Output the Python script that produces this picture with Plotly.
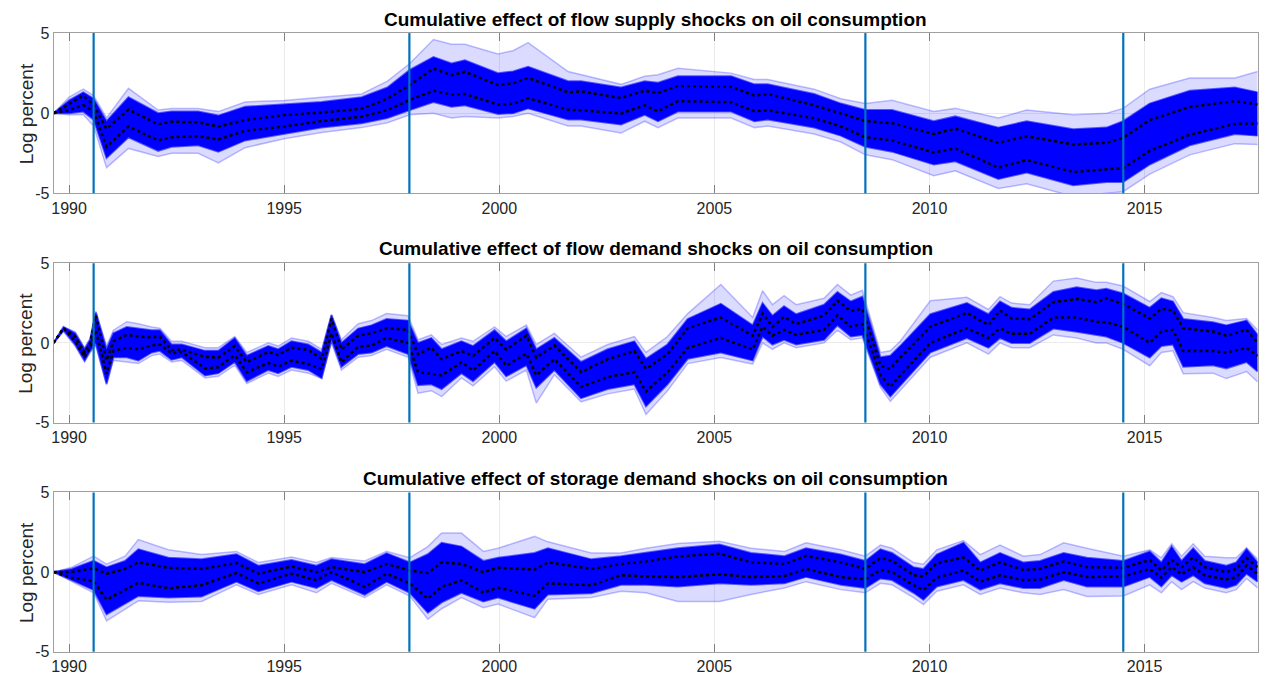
import plotly.graph_objects as go
from plotly.subplots import make_subplots

# ---- flow supply shocks ----
supply_year = [1989.64, 1990.0, 1990.33, 1990.57, 1990.87, 1991.38, 1992.07, 1992.38, 1993.0, 1993.47,
               1994.09, 1995.0, 1995.87, 1996.8, 1997.4, 1997.92, 1998.47, 1998.89, 1999.2, 1999.97,
               2000.32, 2000.67, 2001.6, 2001.9, 2002.83, 2003.38, 2003.69, 2004.15, 2005.39, 2005.93,
               2006.24, 2007.32, 2007.94, 2008.51, 2009.13, 2010.1, 2010.6, 2011.6, 2012.26, 2013.34,
               2014.12, 2014.5, 2015.12, 2016.05, 2017.1, 2017.63]
supply_p84 = [0, 0.6, 1.1, 0.5, -0.97, 0.22, -0.69, -0.53, -0.57, -0.83,
              -0.43, -0.12, 0.04, 0.28, 0.9, 1.76, 2.78, 2.37, 2.58, 1.76,
              1.87, 2.2, 1.3, 1.36, 0.95, 1.4, 1.26, 1.7, 1.64, 1.1,
              1.2, 0.49, -0.02, -0.49, -0.63, -1.3, -0.97, -1.85, -1.44, -1.95,
              -1.85, -1.54, -0.43, 0.39, 0.75, 0.55]
supply_p16 = [0, 0.2, 0.5, 0.1, -2.1, -0.83, -1.7, -1.5, -1.44, -1.64,
              -1.1, -0.83, -0.49, -0.22, 0.2, 0.83, 1.4, 1.16, 1.2, 0.53,
              0.59, 0.93, 0.22, 0.18, -0.02, 0.49, 0.12, 0.75, 0.69, 0.12,
              0.18, -0.32, -0.83, -1.5, -1.7, -2.45, -2.2, -3.4, -2.92, -3.67,
              -3.5, -3.43, -2.35, -1.34, -0.67, -0.65]
supply_core_hi = [0, 0.8, 1.3, 0.9, -0.5, 1.0, 0.0, 0.1, 0.1, -0.15,
                  0.4, 0.55, 0.7, 1.0, 1.6, 2.7, 3.5, 3.1, 3.3, 2.5,
                  2.6, 2.9, 2.0, 2.0, 1.6, 2.0, 1.9, 2.3, 2.3, 1.8,
                  1.8, 1.2, 0.6, 0.2, 0.2, -0.5, -0.2, -0.9, -0.5, -1.0,
                  -0.9, -0.5, 0.6, 1.4, 1.6, 1.3]
supply_core_lo = [0, 0.0, 0.1, -0.4, -2.8, -1.5, -2.35, -2.1, -2.0, -2.4,
                  -1.7, -1.3, -0.9, -0.63, -0.3, 0.2, 0.7, 0.4, 0.5, -0.05,
                  0.0, 0.3, -0.4, -0.4, -0.7, -0.1, -0.5, 0.1, 0.1, -0.5,
                  -0.4, -0.9, -1.4, -2.1, -2.4, -3.2, -3.0, -4.1, -3.7, -4.5,
                  -4.3, -4.3, -3.2, -2.0, -1.3, -1.4]
supply_max = [0, 1.0, 1.5, 1.1, -0.3, 1.55, 0.2, 0.3, 0.3, 0.1,
              0.7, 0.8, 1.0, 1.2, 2.0, 3.1, 4.6, 4.3, 4.3, 3.7,
              3.9, 4.4, 2.6, 2.4, 1.8, 2.3, 2.4, 2.8, 2.5, 2.1,
              2.1, 1.5, 0.9, 0.6, 0.8, 0.1, 0.3, -0.3, 0.2, -0.1,
              0.0, 0.3, 1.5, 2.2, 2.2, 2.6]
supply_min = [0, -0.1, -0.1, -0.8, -3.4, -2.2, -2.7, -2.5, -2.5, -3.1,
              -2.15, -1.6, -1.2, -0.9, -0.6, -0.1, 0.0, -0.3, -0.2, -0.3,
              -0.2, 0.0, -0.8, -0.8, -1.24, -0.5, -0.9, -0.3, -0.3, -0.9,
              -0.8, -1.3, -1.8, -2.6, -2.9, -3.9, -3.6, -4.7, -4.4, -5.2,
              -5.0, -4.9, -3.8, -2.6, -1.9, -1.95]

# ---- flow demand shocks ----
demand_year = [1989.64, 1989.87, 1990.14, 1990.36, 1990.49, 1990.62, 1990.87, 1991.03, 1991.34, 1991.61,
               1991.92, 1992.11, 1992.38, 1992.62, 1993.16, 1993.47, 1993.85, 1994.13, 1994.63, 1994.86,
               1995.17, 1995.56, 1995.87, 1996.1, 1996.33, 1996.72, 1997.03, 1997.38, 1997.88, 1998.11,
               1998.42, 1998.66, 1999.12, 1999.39, 1999.89, 2000.16, 2000.63, 2000.86, 2001.28, 2001.9,
               2002.52, 2003.14, 2003.41, 2003.91, 2004.38, 2005.15, 2005.89, 2006.12, 2006.35, 2006.62,
               2006.9, 2007.55, 2007.86, 2008.17, 2008.44, 2008.86, 2009.09, 2009.32, 2010.02, 2010.87,
               2011.37, 2011.64, 2011.91, 2012.33, 2012.88, 2013.42, 2013.88, 2014.11, 2014.5, 2015.12,
               2015.39, 2015.66, 2015.9, 2016.59, 2016.9, 2017.37, 2017.63]
demand_p84 = [0, 0.92, 0.4, -0.6, 0.0, 1.73, -1.1, 0.1, 0.51, 0.4,
              0.35, 0.4, -0.45, -0.41, -0.88, -0.92, -0.2, -1.22, -0.57, -0.76,
              -0.3, -0.45, -1.0, 1.53, -0.41, 0.45, 0.61, 0.92, 0.82, -0.71,
              -0.3, -1.02, -0.51, -0.82, 0.31, -0.41, 0.45, -0.92, -0.16, -1.84,
              -1.02, -0.51, -1.63, -0.71, 0.92, 1.59, 0.45, 1.84, 1.02, 1.63,
              1.18, 1.73, 2.65, 2.0, 2.14, -1.43, -1.63, -0.92, 1.02, 1.88,
              1.12, 2.04, 1.53, 1.49, 2.55, 2.76, 2.55, 2.8, 2.45, 1.53,
              2.14, 2.04, 0.92, 0.71, 0.45, 0.82, 0.0]
demand_p16 = [0, 0.92, 0.1, -0.9, -0.3, 0.8, -1.94, -0.5, -0.3, -0.4,
              -0.16, -0.1, -0.65, -0.57, -1.6, -1.53, -0.78, -1.84, -1.27, -1.49,
              -1.12, -1.33, -1.63, 0.61, -1.22, -0.24, -0.16, 0.31, 0.0, -1.84,
              -1.94, -2.04, -1.22, -1.73, -0.51, -1.43, -0.67, -2.04, -1.02, -2.76,
              -2.14, -1.84, -3.06, -1.84, -0.31, 0.31, -0.41, 1.02, 0.45, 0.82,
              0.51, 0.82, 1.73, 1.02, 1.18, -2.04, -2.76, -2.04, 0.0, 0.92,
              0.31, 0.92, 0.57, 0.57, 1.59, 1.59, 1.33, 1.29, 1.02, 0.0,
              0.71, 0.82, -0.51, -0.51, -0.61, -0.31, -0.82]
demand_core_hi = [0, 1.0, 0.6, -0.4, 0.2, 1.9, -0.4, 0.6, 1.0, 0.9,
                  0.8, 0.8, -0.1, -0.1, -0.5, -0.5, 0.3, -0.8, -0.2, -0.4,
                  0.1, -0.1, -0.6, 1.73, 0.0, 0.9, 1.1, 1.5, 1.4, 0.0,
                  0.3, -0.4, 0.1, -0.2, 0.8, 0.1, 0.9, -0.4, 0.3, -1.2,
                  -0.4, 0.1, -1.0, -0.1, 1.5, 2.45, 1.1, 2.5, 1.7, 2.3,
                  1.8, 2.4, 3.2, 2.6, 2.9, -0.9, -0.8, -0.2, 1.8, 2.5,
                  1.8, 2.6, 2.2, 2.1, 3.2, 3.5, 3.3, 3.4, 3.1, 2.2,
                  2.8, 2.6, 1.5, 1.3, 1.1, 1.4, 0.5]
demand_core_lo = [0, 0.8, -0.1, -1.1, -0.5, 0.0, -2.55, -0.9, -0.9, -1.1,
                  -0.6, -0.5, -1.06, -0.9, -2.04, -1.9, -1.2, -2.4, -1.7, -1.9,
                  -1.5, -1.7, -2.2, 0.2, -1.5, -0.7, -0.6, -0.2, -0.7, -2.65,
                  -2.6, -2.9, -1.9, -2.4, -1.2, -2.1, -1.4, -2.8, -1.7, -3.47,
                  -2.9, -2.6, -3.98, -2.6, -1.0, -0.6, -1.1, 0.4, -0.1, 0.2,
                  -0.1, 0.2, 1.1, 0.4, 0.5, -2.6, -3.37, -2.7, -0.6, 0.3,
                  -0.3, 0.3, 0.0, 0.0, 0.9, 0.7, 0.5, 0.4, 0.0, -0.92,
                  -0.2, -0.1, -1.5, -1.4, -1.6, -1.2, -1.8]
demand_max = [0, 1.0, 0.7, -0.3, 0.3, 2.0, -0.2, 0.8, 1.33, 1.2,
              1.0, 0.92, 0.1, 0.1, -0.3, -0.3, 0.4, -0.6, 0.0, -0.2,
              0.3, 0.1, -0.4, 1.8, 0.2, 1.2, 1.4, 1.84, 1.7, 0.2,
              0.5, -0.1, 0.3, 0.1, 1.0, 0.4, 1.12, -0.1, 0.6, -0.9,
              -0.1, 0.4, -0.6, 0.4, 1.84, 3.67, 1.6, 3.27, 2.4, 2.96,
              2.4, 2.8, 3.67, 3.0, 3.3, -0.6, -0.5, 0.1, 2.65, 2.86,
              2.1, 2.9, 2.5, 2.4, 3.88, 4.08, 3.8, 3.8, 3.57, 2.6,
              3.16, 2.9, 1.9, 1.6, 1.4, 1.53, 0.8]
demand_min = [0, 0.7, -0.2, -1.2, -0.6, -0.2, -2.65, -1.1, -1.2, -1.3,
              -0.8, -0.7, -1.2, -1.1, -2.2, -2.1, -1.4, -2.55, -1.9, -2.1,
              -1.7, -1.9, -2.24, 0.0, -1.7, -0.9, -0.8, -0.4, -0.9, -3.16,
              -3.0, -3.37, -2.2, -2.7, -1.5, -2.4, -1.7, -3.78, -2.0, -3.7,
              -3.2, -2.9, -4.49, -3.0, -1.3, -0.92, -1.33, 0.0, -0.4, 0.0,
              -0.3, 0.0, 0.8, 0.2, 0.3, -2.8, -3.67, -3.0, -0.9, 0.0,
              -0.7, 0.0, -0.3, -0.3, 0.5, 0.3, 0.0, 0.0, -0.4, -1.43,
              -0.6, -0.5, -1.94, -1.9, -2.24, -1.8, -2.45]

# ---- storage demand shocks ----
storage_year = [1989.64, 1990.06, 1990.57, 1990.87, 1991.3, 1991.61, 1992.31, 1993.08, 1993.89, 1994.4,
                1995.17, 1995.75, 1996.1, 1996.87, 1997.38, 1997.92, 1998.34, 1998.66, 1999.12, 1999.63,
                1999.97, 2000.82, 2001.13, 2002.14, 2002.83, 2003.41, 2004.15, 2005.12, 2005.85, 2006.63,
                2007.13, 2007.94, 2008.51, 2008.86, 2009.13, 2009.63, 2009.86, 2010.17, 2010.79, 2011.18,
                2011.64, 2012.18, 2012.57, 2013.12, 2013.66, 2014.51, 2015.12, 2015.39, 2015.63, 2015.86,
                2016.13, 2016.4, 2016.9, 2017.13, 2017.37, 2017.63]
storage_p84 = [0, 0, 0.24, -0.1, 0.2, 0.61, 0.27, 0.2, 0.57, -0.1,
               0.35, 0.0, 0.31, 0.0, 0.51, 0.1, -0.06, 0.61, 0.51, 0.0,
               0.27, 0.16, 0.61, 0.2, 0.51, 0.67, 0.98, 1.16, 0.61, 0.51,
               1.02, 0.61, 0.2, 0.88, 0.71, -0.2, -0.27, 0.55, 0.92, 0.1,
               0.61, 0.14, 0.2, 0.67, 0.31, 0.27, 0.76, 0.1, 0.76, 0.31,
               0.92, 0.31, 0.0, 0.2, 0.88, 0.31]
storage_p16 = [0, -0.35, -0.57, -1.73, -1.12, -0.67, -1.02, -0.82, -0.06, -0.71,
               -0.1, -0.51, 0.0, -0.92, -0.1, -0.71, -1.67, -0.92, -0.51, -1.29,
               -0.98, -1.49, -0.71, -0.82, -0.2, -0.27, -0.31, -0.14, -0.31, -0.24,
               0.2, -0.31, -0.45, 0.14, 0.0, -0.82, -1.12, -0.35, 0.1, -0.61,
               -0.2, -0.51, -0.47, 0.0, -0.31, -0.27, 0.2, -0.35, 0.31, -0.14,
               0.31, -0.2, -0.47, -0.31, 0.41, -0.1]
storage_core_hi = [0, 0.2, 0.71, 0.3, 0.7, 1.43, 0.9, 0.8, 1.12, 0.4,
                   0.76, 0.4, 0.8, 0.5, 1.18, 0.6, 1.12, 1.84, 1.6, 0.7,
                   0.9, 1.2, 1.5, 0.8, 1.0, 1.2, 1.5, 1.73, 1.2, 1.0,
                   1.5, 1.1, 0.7, 1.43, 1.2, 0.3, 0.2, 1.1, 1.84, 0.6,
                   1.2, 0.6, 0.7, 1.2, 0.9, 0.7, 1.3, 0.6, 1.6, 0.7,
                   1.5, 0.7, 0.4, 0.6, 1.45, 0.6]
storage_core_lo = [0, -0.5, -1.12, -2.65, -2.0, -1.5, -1.6, -1.53, -0.6, -1.2,
                   -0.6, -1.0, -0.5, -1.43, -0.6, -1.3, -2.55, -1.9, -1.3, -1.84,
                   -1.6, -2.3, -1.4, -1.33, -0.8, -0.8, -0.9, -0.7, -0.8, -0.7,
                   -0.3, -0.8, -1.0, -0.4, -0.5, -1.3, -1.73, -0.9, -0.5, -1.1,
                   -0.7, -1.0, -1.0, -0.5, -0.9, -0.9, -0.3, -0.9, -0.2, -0.6,
                   -0.2, -0.7, -1.0, -0.8, -0.1, -0.6]
storage_max = [0, 0.3, 1.0, 0.5, 1.0, 2.04, 1.4, 1.1, 1.3, 0.6,
               0.95, 0.6, 0.92, 0.7, 1.3, 0.9, 1.6, 2.45, 2.45, 1.3,
               1.5, 2.24, 1.9, 1.2, 1.2, 1.5, 1.8, 1.94, 1.5, 1.3,
               1.84, 1.4, 1.0, 1.7, 1.5, 0.6, 0.5, 1.4, 1.98, 1.1,
               1.7, 1.0, 1.1, 1.84, 1.5, 1.0, 1.4, 0.9, 1.78, 1.0,
               1.78, 1.0, 0.9, 0.9, 1.53, 0.8]
storage_min = [0, -0.6, -1.3, -3.06, -2.3, -1.8, -1.9, -1.84, -0.8, -1.4,
               -0.8, -1.3, -0.7, -1.6, -0.8, -1.5, -2.96, -2.3, -1.6, -2.24,
               -2.0, -2.86, -1.7, -1.6, -1.2, -1.3, -1.84, -1.84, -1.4, -1.0,
               -0.6, -1.1, -1.3, -0.7, -0.8, -1.6, -2.04, -1.2, -0.8, -1.4,
               -1.0, -1.3, -1.4, -1.1, -1.53, -1.5, -0.8, -1.3, -0.6, -1.1,
               -0.6, -1.0, -1.3, -1.1, -0.4, -1.0]

titles = ["Cumulative effect of flow supply shocks on oil consumption",
          "Cumulative effect of flow demand shocks on oil consumption",
          "Cumulative effect of storage demand shocks on oil consumption"]
event_dates = [1990.57, 1997.91, 2008.51, 2014.505]
year_ticks = [1990, 1995, 2000, 2005, 2010, 2015]

panels = [
    (supply_year, supply_min, supply_max, supply_core_lo, supply_core_hi, supply_p16, supply_p84),
    (demand_year, demand_min, demand_max, demand_core_lo, demand_core_hi, demand_p16, demand_p84),
    (storage_year, storage_min, storage_max, storage_core_lo, storage_core_hi, storage_p16, storage_p84),
]

W, H = 1261, 690
x_dom = [51.7 / W, 1257.7 / W]
# pixel tops / bottoms of the three plot boxes
boxes = [(25.7, 190.0), (261.7, 425.0), (496.7, 660.0)]
title_y = [12, 247, 482]

fig = make_subplots(rows=3, cols=1)
font = "Liberation Sans, Arial, Helvetica, sans-serif"
faint = "rgba(0,0,255,0.14)"
dense = "rgb(0,0,255)"

for i, (yr, lo, hi, clo, chi, p16, p84) in enumerate(panels):
    r = i + 1
    fig.add_trace(go.Scatter(x=yr, y=lo, mode="lines", line=dict(color="rgba(0,0,255,0.25)", width=1.5),
                             showlegend=False, hoverinfo="skip"), row=r, col=1)
    fig.add_trace(go.Scatter(x=yr, y=hi, mode="lines", line=dict(color="rgba(0,0,255,0.25)", width=1.5),
                             fill="tonexty", fillcolor=faint, showlegend=False, hoverinfo="skip"), row=r, col=1)
    fig.add_trace(go.Scatter(x=yr, y=clo, mode="lines", line=dict(color="rgba(0,0,255,0.6)", width=2),
                             showlegend=False, hoverinfo="skip"), row=r, col=1)
    fig.add_trace(go.Scatter(x=yr, y=chi, mode="lines", line=dict(color="rgba(0,0,255,0.6)", width=2),
                             fill="tonexty", fillcolor=dense, showlegend=False, hoverinfo="skip"), row=r, col=1)
    for band in (p84, p16):
        fig.add_trace(go.Scatter(x=yr, y=band, mode="lines", line=dict(color="black", width=2.5, dash="dot"),
                                 showlegend=False), row=r, col=1)

    top, bot = boxes[i]
    ax = "" if i == 0 else str(r)
    fig.update_layout(**{
        "xaxis" + ax: dict(domain=x_dom, range=[1989.64, 2017.63], tickvals=year_ticks,
                           ticks="inside", ticklen=8, tickcolor="#808080", mirror="ticks",
                           showline=True, linecolor="#a0a0a0", linewidth=1,
                           showgrid=True, gridcolor="#ebebeb", zeroline=False,
                           tickfont=dict(size=16, color="#262626", family=font)),
        "yaxis" + ax: dict(domain=[1 - bot / H, 1 - top / H], range=[-5, 5],
                           tickvals=[-5, 0, 5], ticktext=["-5", "0", "5"],
                           ticks="", mirror=True, showline=True, linecolor="#a0a0a0", linewidth=1,
                           showgrid=True, gridcolor="#ebebeb", zeroline=False,
                           tickfont=dict(size=16, color="#262626", family=font)),
    })
    for d in event_dates:
        fig.add_shape(type="line", x0=d, x1=d, y0=0, y1=1, xref="x" + ax, yref="y" + ax + " domain",
                      line=dict(color="#0072BD", width=2.2))
    fig.add_annotation(text="<b>" + titles[i] + "</b>", x=(x_dom[0] + x_dom[1]) / 2, y=1 - title_y[i] / H,
                       xref="paper", yref="paper", showarrow=False, yanchor="middle",
                       font=dict(size=19, color="black", family=font))
    fig.add_annotation(text="Log percent", x=24 / W, y=1 - (top + bot) / 2 / H, xref="paper", yref="paper",
                       showarrow=False, textangle=-90, xanchor="center", yanchor="middle",
                       font=dict(size=19, color="#262626", family=font))

fig.update_layout(width=W, height=H, margin=dict(l=0, r=0, t=0, b=0),
                  plot_bgcolor="white", paper_bgcolor="white", font=dict(family=font))

# drop the browser's default 8px body margin so the figure sits at the page origin
fig.write_html("out.html", config={"displayModeBar": False},
               post_script="document.body.style.margin='0';")
